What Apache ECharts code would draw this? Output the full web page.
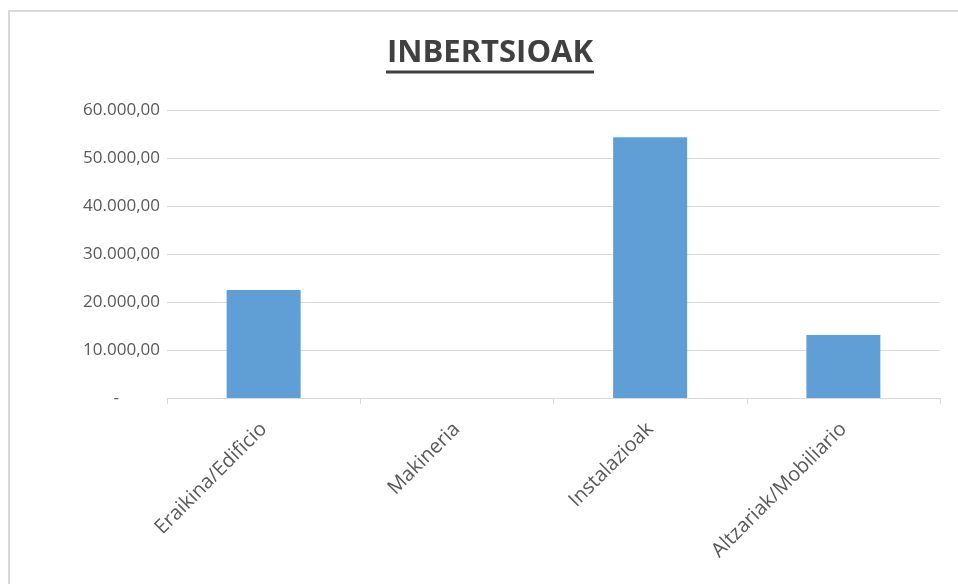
<!DOCTYPE html>
<html>
<head>
<meta charset="utf-8">
<script src="https://cdn.jsdelivr.net/npm/echarts@6/dist/echarts.min.js"></script>
<style>
  html, body { margin: 0; padding: 0; background: #fff; }
  #chart { width: 958px; height: 584px; }
</style>
</head>
<body>
<div id="chart"></div>
<script>
// data
const categories = ['Eraikina/Edificio', 'Makineria', 'Instalazioak', 'Altzariak/Mobiliario'];
const amounts = [22500, 0, 54300, 13100];
const yTicks = [0, 10000, 20000, 30000, 40000, 50000, 60000];

function fmtMoney(v) {
  if (v === 0) return '{z|-}';
  const s = Math.round(v).toString().replace(/\B(?=(\d{3})+(?!\d))/g, '.');
  return s + ',00';
}

const font = 'Open Sans';
const chart = echarts.init(document.getElementById('chart'));

const option = {
  animation: false,
  backgroundColor: '#ffffff',
  title: {
    text: 'INBERTSIOAK',
    left: 485,
    textAlign: 'center',
    top: 33,
    textStyle: {
      fontFamily: font,
      fontSize: 31,
      fontWeight: 'bold',
      color: '#404040'
    }
  },
  graphic: [
    {
      type: 'rect',
      silent: true,
      shape: { x: 9, y: 11, width: 1000, height: 1000 },
      style: { fill: 'none', stroke: '#d9d9d9', lineWidth: 2 }
    },
    {
      type: 'line',
      silent: true,
      shape: { x1: 386, y1: 72, x2: 594, y2: 72 },
      style: { stroke: '#404040', lineWidth: 3 }
    }
  ],
  grid: {
    left: 167,
    right: 18,
    top: 110,
    bottom: 186
  },
  xAxis: {
    type: 'category',
    data: categories,
    axisLine: { lineStyle: { color: '#d9d9d9', width: 1 } },
    axisTick: { show: true, length: 6, lineStyle: { color: '#d9d9d9' } },
    axisLabel: {
      rotate: 45,
      margin: 28,
      fontFamily: font,
      fontSize: 20,
      color: '#595959'
    }
  },
  yAxis: {
    type: 'value',
    min: yTicks[0],
    max: yTicks[yTicks.length - 1],
    interval: 10000,
    axisLine: { show: false },
    axisTick: { show: false },
    splitLine: { lineStyle: { color: '#d9d9d9', width: 1 } },
    axisLabel: {
      margin: 7,
      fontFamily: font,
      fontSize: 17,
      color: '#595959',
      formatter: fmtMoney,
      rich: {
        z: { fontFamily: font, fontSize: 17, color: '#595959', padding: [0, 41, 0, 0] }
      }
    }
  },
  series: [{
    type: 'bar',
    data: amounts,
    barWidth: 74,
    itemStyle: {
      color: '#5f9fd6',
      borderWidth: 0
    }
  }]
};

chart.setOption(option);
</script>
</body>
</html>
